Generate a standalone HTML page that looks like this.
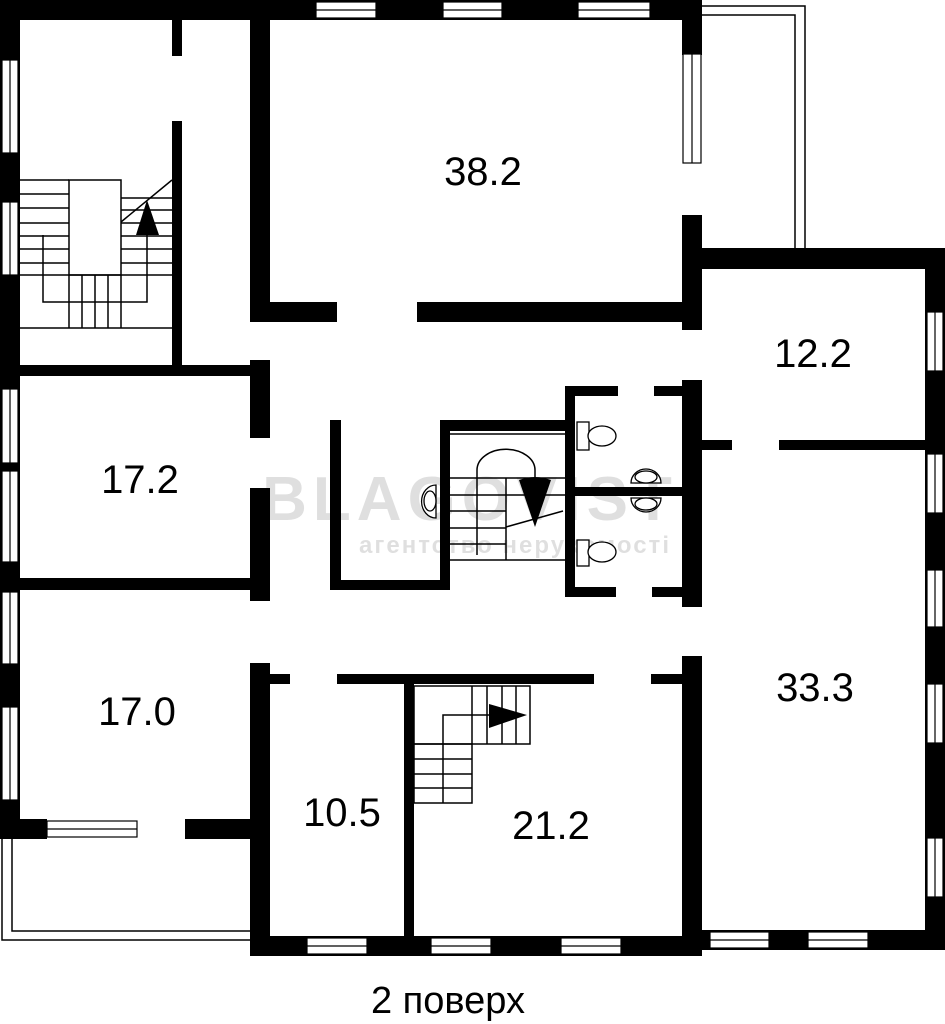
<!DOCTYPE html>
<html><head><meta charset="utf-8"><style>
html,body{margin:0;padding:0;background:#fff;}
svg{display:block;}
text{font-family:"Liberation Sans",sans-serif;fill:#000;}
</style></head><body>
<svg width="945" height="1024" viewBox="0 0 945 1024" xmlns="http://www.w3.org/2000/svg">
<!-- watermark -->
<g opacity="0.12">
<text x="470" y="520" font-size="62" text-anchor="middle" font-weight="bold" fill="#999" letter-spacing="6">BLAGOVIST</text>
<text x="515" y="553" font-size="24" text-anchor="middle" font-weight="bold" fill="#999" letter-spacing="2">агентство нерухомості</text>
</g>

<!-- balconies -->
<g fill="none" stroke="#000" stroke-width="1.5">
<polyline points="701,6 805,6 805,248"/>
<polyline points="701,15 795,15 795,248"/>
<polyline points="2,839 2,940 250,940"/>
<polyline points="12,839 12,931 250,931"/>
</g>

<g fill="#000">
<!-- outer top wall -->
<rect x="0" y="0" width="702" height="20"/>
<!-- left outer wall -->
<rect x="0" y="0" width="20" height="839"/>
<!-- 38.2 right wall -->
<rect x="682" y="0" width="20" height="55"/>
<rect x="682" y="215" width="20" height="115"/>
<!-- 12.2 top wall -->
<rect x="682" y="248" width="263" height="21"/>
<!-- right outer wall -->
<rect x="925" y="248" width="20" height="702"/>
<!-- 38.2 left wall and bottom -->
<rect x="250" y="20" width="20" height="302"/>
<rect x="250" y="302" width="87" height="20"/>
<rect x="417" y="302" width="285" height="20"/>
<!-- stair room inner wall -->
<rect x="172" y="20" width="10" height="36"/>
<rect x="172" y="121" width="10" height="246"/>
<rect x="20" y="365" width="250" height="11"/>
<!-- 17.2 walls -->
<rect x="250" y="360" width="20" height="78"/>
<rect x="250" y="488" width="20" height="113"/>
<rect x="20" y="578" width="250" height="12"/>
<!-- 17.0 walls -->
<rect x="250" y="663" width="20" height="293"/>
<rect x="0" y="819" width="47" height="20"/>
<rect x="185" y="819" width="65" height="20"/>
<!-- bottom wall -->
<rect x="250" y="936" width="452" height="20"/>
<rect x="700" y="930" width="245" height="20"/>
<!-- 10.5/21.2 top wall -->
<rect x="270" y="674" width="20" height="10"/>
<rect x="337" y="674" width="257" height="10"/>
<rect x="651" y="674" width="31" height="10"/>
<rect x="404" y="684" width="10" height="252"/>
<rect x="682" y="656" width="20" height="294"/>
<!-- center walls -->
<rect x="682" y="380" width="20" height="227"/>
<rect x="654" y="386" width="28" height="10"/>
<rect x="702" y="440" width="30" height="10"/>
<rect x="779" y="440" width="146" height="10"/>
<rect x="330" y="420" width="11" height="170"/>
<rect x="330" y="580" width="120" height="10"/>
<rect x="440" y="420" width="10" height="170"/>
<rect x="440" y="420" width="128" height="11"/>
<rect x="565" y="386" width="10" height="211"/>
<rect x="565" y="386" width="53" height="10"/>
<rect x="565" y="587" width="51" height="10"/>
<rect x="652" y="587" width="30" height="10"/>
<rect x="575" y="487" width="107" height="9"/>
</g>

<!-- windows -->
<g fill="#fff" stroke="#000" stroke-width="1.2">
<!-- top -->
<rect x="316" y="2" width="60" height="16"/><line x1="316" y1="10" x2="376" y2="10"/>
<rect x="443" y="2" width="59" height="16"/><line x1="443" y1="10" x2="502" y2="10"/>
<rect x="578" y="2" width="72" height="16"/><line x1="578" y1="10" x2="650" y2="10"/>
<!-- 38.2 right -->
<rect x="683" y="54" width="18" height="109"/><line x1="692" y1="54" x2="692" y2="163"/>
<!-- left -->
<rect x="2" y="60" width="16" height="93"/><line x1="10" y1="60" x2="10" y2="153"/>
<rect x="2" y="202" width="16" height="73"/><line x1="10" y1="202" x2="10" y2="275"/>
<rect x="2" y="389" width="16" height="74"/><line x1="10" y1="389" x2="10" y2="463"/>
<rect x="2" y="471" width="16" height="91"/><line x1="10" y1="471" x2="10" y2="562"/>
<rect x="2" y="592" width="16" height="72"/><line x1="10" y1="592" x2="10" y2="664"/>
<rect x="2" y="707" width="16" height="93"/><line x1="10" y1="707" x2="10" y2="800"/>
<!-- 17.0 bottom -->
<rect x="47" y="821" width="90" height="16"/><line x1="47" y1="829" x2="137" y2="829"/>
<!-- right -->
<rect x="927" y="312" width="16" height="59"/><line x1="935" y1="312" x2="935" y2="371"/>
<rect x="927" y="454" width="16" height="59"/><line x1="935" y1="454" x2="935" y2="513"/>
<rect x="927" y="570" width="16" height="57"/><line x1="935" y1="570" x2="935" y2="627"/>
<rect x="927" y="684" width="16" height="59"/><line x1="935" y1="684" x2="935" y2="743"/>
<rect x="927" y="838" width="16" height="59"/><line x1="935" y1="838" x2="935" y2="897"/>
<!-- bottom -->
<rect x="307" y="938" width="60" height="16"/><line x1="307" y1="946" x2="367" y2="946"/>
<rect x="431" y="938" width="60" height="16"/><line x1="431" y1="946" x2="491" y2="946"/>
<rect x="561" y="938" width="60" height="16"/><line x1="561" y1="946" x2="621" y2="946"/>
<rect x="710" y="932" width="59" height="16"/><line x1="710" y1="940" x2="769" y2="940"/>
<rect x="808" y="932" width="60" height="16"/><line x1="808" y1="940" x2="868" y2="940"/>
</g>

<!-- top-left stair -->
<g fill="none" stroke="#000" stroke-width="1.5">
<rect x="69" y="180" width="52" height="95"/>
<path d="M20 180H69M20 194H69M20 208H69M20 223H69M20 236H69M20 249H69M20 263H69M20 275H172"/>
<path d="M121 198H172M121 210H172M121 223H172M121 236H172M121 249H172M121 263H172"/>
<line x1="121" y1="222" x2="172" y2="180"/>
<path d="M69 275V328M82 275V328M95 275V328M108 275V328M121 275V328"/>
<line x1="20" y1="328" x2="172" y2="328"/>
<polyline points="43,235 43,302 147,302 147,235"/>
</g>
<polygon points="147,200 136,235 159,235" fill="#000"/>

<!-- 21.2 stair -->
<g fill="none" stroke="#000" stroke-width="1.5">
<rect x="414" y="686" width="116" height="58"/>
<rect x="414" y="744" width="58" height="59"/>
<path d="M472 686V744M487 686V744M502 686V744M516 686V744"/>
<path d="M443 744V803M414 759H472M414 774H472M414 788H472"/>
<polyline points="443,744 443,715 489,715"/>
</g>
<polygon points="489,704 489,728 527,715" fill="#000"/>

<!-- center stair -->
<g fill="none" stroke="#000" stroke-width="1.5">
<line x1="450" y1="434" x2="565" y2="434"/>
<path d="M450 478H565M450 495H565M450 511H506M450 528H506M450 544H506M450 560H565"/>
<line x1="506" y1="478" x2="506" y2="560"/>
<line x1="506" y1="527" x2="563" y2="511"/>
<path d="M477 555V470A28 20 0 0 1 535 470V480"/>
</g>
<path d="M519 480Q535 474 551 480L535 527Z" fill="#000"/>

<!-- fixtures -->
<g fill="#fff" stroke="#000" stroke-width="1.3">
<path d="M436 485V518A14 16 0 0 1 436 485Z"/>
<ellipse cx="430" cy="501" rx="6" ry="10"/>
<rect x="577" y="422" width="12" height="28"/>
<ellipse cx="602" cy="436" rx="14" ry="10"/>
<rect x="577" y="540" width="12" height="26"/>
<ellipse cx="602" cy="552" rx="14" ry="10"/>
<path d="M631 483H661A15 14 0 0 0 631 483Z"/>
<ellipse cx="646" cy="477" rx="11" ry="6"/>
<path d="M631 498H661A15 14 0 0 1 631 498Z"/>
<ellipse cx="646" cy="504" rx="11" ry="6"/>
</g>

<!-- labels -->
<g font-size="40" text-anchor="middle">
<text x="483" y="185">38.2</text>
<text x="813" y="367">12.2</text>
<text x="140" y="493">17.2</text>
<text x="137" y="725">17.0</text>
<text x="815" y="701">33.3</text>
<text x="342" y="826">10.5</text>
<text x="551" y="839">21.2</text>
</g>
<text x="448" y="1013" font-size="38" text-anchor="middle">2 поверх</text>
</svg>
</body></html>
